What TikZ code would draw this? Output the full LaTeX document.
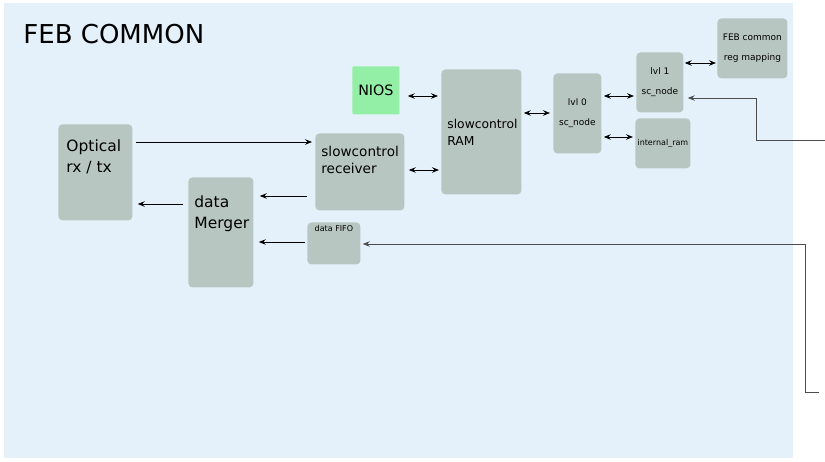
\documentclass[tikz,border=0pt]{standalone}
\usepackage{fontspec}
\setmainfont{DejaVu Sans}
\usepackage{tikz}
\usetikzlibrary{arrows.meta,positioning}
\definecolor{bgblue}{HTML}{E5F1FA}
\definecolor{boxgray}{HTML}{B8C6C2}
\definecolor{niosgreen}{HTML}{93EEA6}

\begin{document}
\begin{tikzpicture}[x=1pt,y=-1pt,>={Stealth[length=7pt,width=5.5pt,inset=2.5pt]},line width=0.8pt,
                    block/.style={fill=boxgray,rounded corners=4pt,anchor=north west,inner sep=0pt},
                    big text/.style={align=left,inner sep=0pt,font=\fontsize{15.5}{21}\selectfont},
                    mid text/.style={align=left,inner sep=0pt,font=\fontsize{13.6}{17}\selectfont},
                    small text/.style={align=center,font=\fontsize{9}{20}\selectfont},
                    link/.style={->,shorten >=3pt,shorten <=3pt},
                    dlink/.style={<->,shorten >=2pt,shorten <=2pt}]
  \useasboundingbox (0,0) rectangle (825,461);
  \fill[bgblue] (4,3) rectangle (793,458);
  \node[anchor=base west,inner sep=0pt,font=\fontsize{26}{30}\selectfont] (title) at (23,43) {FEB COMMON};

  % blocks
  \node[block,minimum width=74pt,minimum height=96pt] (optical) at (58,124) {};
  \node[block,minimum width=65pt,minimum height=110pt] (merger) at (188,177) {};
  \node[block,minimum width=89pt,minimum height=77pt] (receiver) at (315,133) {};
  \node[block,fill=niosgreen,rounded corners=1pt,minimum width=47pt,minimum height=48pt,
        font=\fontsize{14.3}{17}\selectfont] (nios) at (352,66) {NIOS};
  \node[block,minimum width=80pt,minimum height=125pt] (ram) at (441,69) {};
  \node[block,small text,minimum width=48pt,minimum height=80pt] (lvl0) at (553,73) {lvl 0\\sc\_node};
  \node[block,small text,minimum width=47pt,minimum height=60pt] (lvl1) at (636,52) {lvl 1\\sc\_node};
  \node[block,small text,font=\fontsize{8}{10}\selectfont,minimum width=55pt,minimum height=50pt] (intram) at (635,118) {internal\_ram};
  \node[block,small text,minimum width=70pt,minimum height=60pt] (febreg) at (717,18) {FEB common\\reg mapping};
  \node[block,minimum width=53pt,minimum height=42pt] (fifo) at (307,222) {};

  % block texts
  \node[big text,below right=15pt and 8pt of optical.north west] (optical-txt) {Optical\\rx / tx};
  \node[big text,below right=18pt and 6pt of merger.north west] (merger-txt) {data\\Merger};
  \node[mid text,below right=13pt and 6pt of receiver.north west] (receiver-txt) {slowcontrol\\receiver};
  \node[mid text,font=\fontsize{12.3}{17}\selectfont,below right=50pt and 6pt of ram.north west] (ram-txt) {slowcontrol\\RAM};
  \node[inner sep=0pt,font=\fontsize{8}{10}\selectfont,below=3pt of fifo.north] (fifo-txt) {data FIFO};

  % links
  \draw[link] (optical.east |- 0,142) -- (receiver.west |- 0,142);
  \draw[link,shorten <=8pt,shorten >=6pt] (receiver.west |- 0,196) -- (merger.east |- 0,196);
  \draw[link,shorten <=5pt,shorten >=5pt] (merger.west |- 0,204) -- (optical.east |- 0,204);
  \draw[link,shorten <=2pt,shorten >=5pt] (fifo.west |- 0,242) -- (merger.east |- 0,242);
  \draw[dlink,shorten <=4pt] (receiver.east |- 0,170) -- (ram.west |- 0,170);
  \draw[dlink,shorten <=8pt,shorten >=3pt] (nios.east |- 0,96) -- (ram.west |- 0,96);
  \draw[dlink,shorten >=3pt] (ram.east |- 0,113) -- (lvl0.west |- 0,113);
  \draw[dlink] (lvl0.east |- 0,96) -- (lvl1.west |- 0,96);
  \draw[dlink] (lvl0.east |- 0,137) -- (intram.west |- 0,137);
  \draw[dlink,shorten >=1pt,shorten <=1pt] (lvl1.east |- 0,63) -- (febreg.west |- 0,63);

  % external inputs
  \coordinate (ext1) at (825,140);
  \coordinate (turn1) at (756,98);
  \coordinate (ext2) at (819,392);
  \coordinate (turn2) at (805,244);
  \draw[->,shorten >=4pt,black!70] (ext1) -| (turn1) -- (lvl1.east |- turn1);
  \draw[->,shorten >=2pt,black!70] (ext2) -| (turn2) -- (fifo.east |- turn2);
\end{tikzpicture}
\end{document}
